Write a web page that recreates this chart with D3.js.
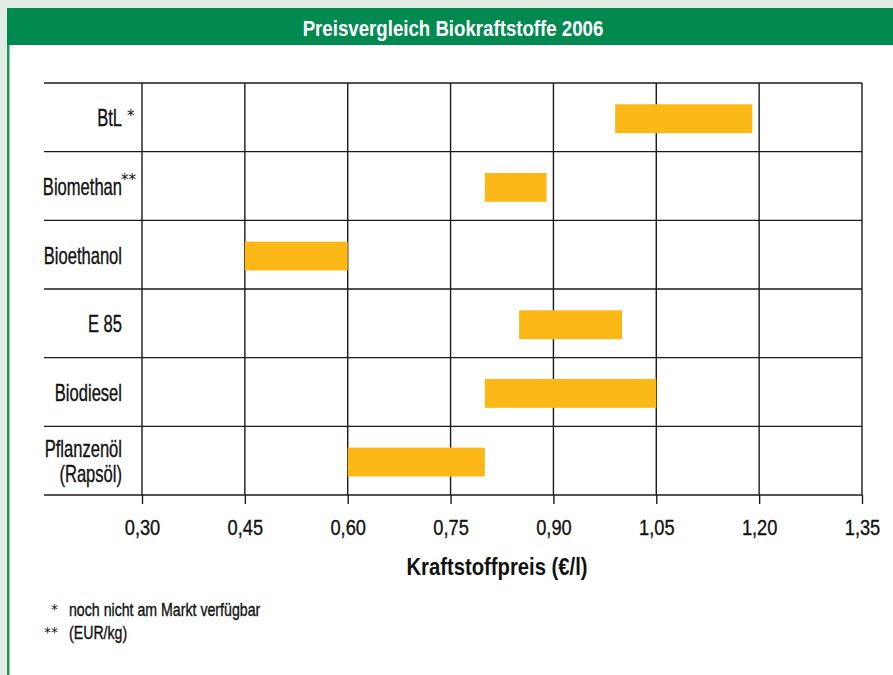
<!DOCTYPE html>
<html>
<head>
<meta charset="utf-8">
<script src="https://cdn.jsdelivr.net/npm/d3@7/dist/d3.min.js"></script>
<style>
  html, body { margin: 0; padding: 0; background: #e1ede5; }
  svg { display: block; }
  text { font-family: "Liberation Sans", Arial, sans-serif; fill: #111; }
</style>
</head>
<body>
<svg id="chart" width="893" height="675"></svg>
<script>
// Price ranges of biofuels 2006 (EUR per litre, Biomethan per kg)
const categories = ["BtL", "Biomethan", "Bioethanol", "E 85", "Biodiesel", "Pflanzenöl"];
const categoryLines = [["BtL"], ["Biomethan"], ["Bioethanol"], ["E 85"], ["Biodiesel"], ["Pflanzenöl", "(Rapsöl)"]];
const categoryMarks = ["*", "**", "", "", "", ""];
const priceLow  = [0.99, 0.80, 0.45, 0.85, 0.80, 0.60];
const priceHigh = [1.19, 0.89, 0.60, 1.00, 1.05, 0.80];
const tickValues = [0.30, 0.45, 0.60, 0.75, 0.90, 1.05, 1.20, 1.35];
const titleText = "Preisvergleich Biokraftstoffe 2006";
const axisTitle = "Kraftstoffpreis (€/l)";
const footnotes = [["*", "noch nicht am Markt verfügbar"], ["**", "(EUR/kg)"]];

const svg = d3.select("#chart");

// horizontally condensed text (narrow grotesque look); a hairline stroke gives medium weight
function ctext(parent, x, y, str, size, sx, anchor, weight, fill) {
  const t = parent.append("text")
    .attr("transform", `translate(${x},${y}) scale(${sx},1)`)
    .attr("text-anchor", anchor || "start")
    .style("font-size", size + "px")
    .style("font-weight", weight || "normal")
    .style("fill", fill || "#111")
    .text(str);
  if (!weight) t.style("stroke", fill || "#111").style("stroke-width", 0.35);
  return t;
}

// frame: white panel, green left rule and title bar
svg.append("rect").attr("x", 8).attr("y", 8).attr("width", 885).attr("height", 667).attr("fill", "#ffffff");
svg.append("rect").attr("x", 7).attr("y", 8).attr("width", 2.5).attr("height", 667).attr("fill", "#1a9a55");
svg.append("rect").attr("x", 7).attr("y", 8).attr("width", 886).attr("height", 37).attr("fill", "#008a4f");
ctext(svg, 453, 36, titleText, 22.5, 0.83, "middle", "bold", "#ffffff");

const plotLeft = 142, plotRight = 862, plotTop = 83, plotBottom = 495, labelLeft = 44;

const x = d3.scaleLinear().domain([0.30, 1.35]).range([plotLeft, plotRight]);
const y = d3.scaleBand().domain(categories).range([plotTop, plotBottom]).padding(0);

const grid = svg.append("g").attr("stroke", "#1a1a1a").attr("stroke-width", 1.4);

// horizontal row separators reach under the category labels
const rowEdges = categories.map(c => y(c)).concat([plotBottom]);
grid.selectAll("line.h").data(rowEdges).join("line")
  .attr("x1", labelLeft).attr("x2", plotRight)
  .attr("y1", d => d).attr("y2", d => d);

// vertical grid at every price tick
grid.selectAll("line.v").data(tickValues).join("line")
  .attr("x1", d => x(d)).attr("x2", d => x(d))
  .attr("y1", plotTop).attr("y2", plotBottom);

// x axis with downward ticks
const xAxis = d3.axisBottom(x).tickValues(tickValues).tickSize(9)
  .tickFormat(d => d3.format(".2f")(d).replace(".", ","));
const ax = svg.append("g").attr("transform", `translate(0,${plotBottom})`).call(xAxis);
ax.select(".domain").remove();
ax.selectAll(".tick line").attr("stroke", "#1a1a1a").attr("stroke-width", 1.4);
ax.selectAll(".tick text")
  .attr("y", null).attr("dy", null)
  .attr("transform", "translate(0,40) scale(0.83,1)")
  .style("font-size", "22px").style("fill", "#111")
  .style("stroke", "#111").style("stroke-width", 0.35)
  .style("font-family", "'Liberation Sans', Arial, sans-serif");

// bars
svg.append("g").selectAll("rect").data(categories).join("rect")
  .attr("x", (d, i) => x(priceLow[i]))
  .attr("width", (d, i) => x(priceHigh[i]) - x(priceLow[i]))
  .attr("y", d => y(d) + y.bandwidth() * 0.31)
  .attr("height", y.bandwidth() * 0.42)
  .attr("fill", "#fcb817");

// category labels
const labels = svg.append("g").selectAll("g").data(categories).join("g")
  .attr("transform", d => `translate(122,${y(d) + y.bandwidth() / 2})`);
labels.each(function(d, i) {
  const g = d3.select(this);
  const lines = categoryLines[i];
  const start = lines.length === 1 ? 9 : -4;
  lines.forEach((t, k) => ctext(g, 0, start + k * 25, t, 23, 0.72, "end"));
  if (categoryMarks[i]) {
    g.append("text").attr("x", i === 0 ? 5 : -1).attr("y", i === 0 ? 4 : -1)
      .style("font-size", "15px").style("font-family", "'DejaVu Sans', sans-serif").text(categoryMarks[i]);
  }
});

// axis title
ctext(svg, 497, 575, axisTitle, 23, 0.88, "middle", "bold");

// footnotes
const fn = svg.append("g").selectAll("g").data(footnotes).join("g")
  .attr("transform", (d, i) => `translate(0,${616 + i * 23})`);
fn.append("text").attr("x", 58).attr("y", -2).attr("text-anchor", "end")
  .style("font-size", "14px").style("font-family", "'DejaVu Sans', sans-serif").text(d => d[0]);
fn.each(function(d) { ctext(d3.select(this), 69, 0, d[1], 17.5, 0.81, "start"); });
</script>
</body>
</html>
